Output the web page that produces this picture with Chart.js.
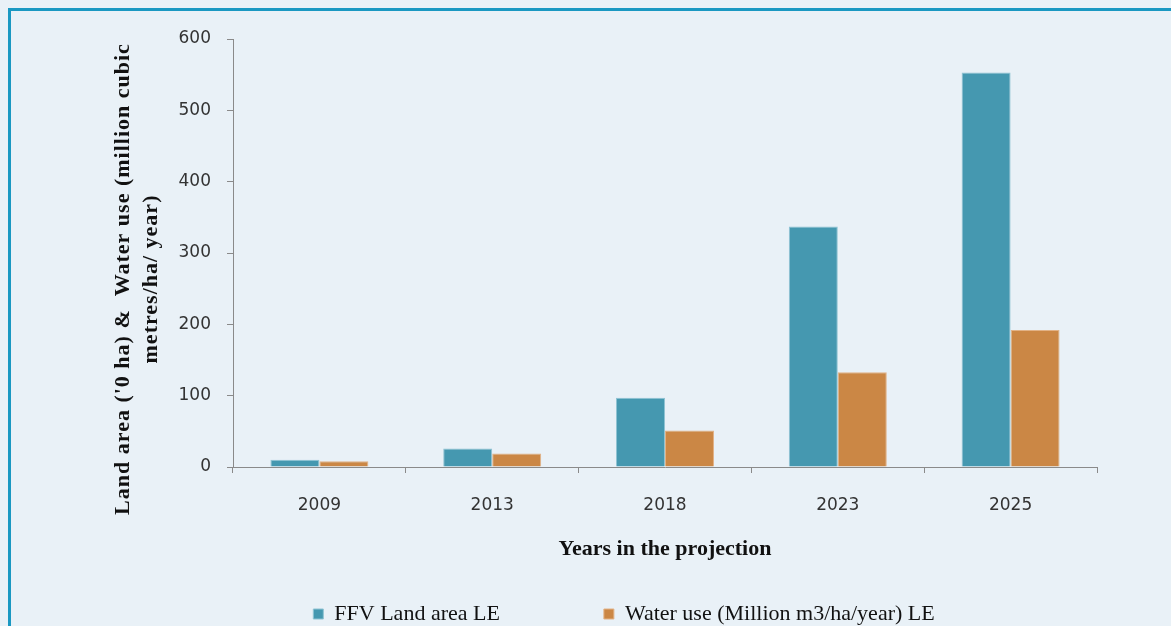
<!DOCTYPE html>
<html>
<head>
<meta charset="utf-8">
<script src="https://cdn.jsdelivr.net/npm/chart.js@4"></script>
<style>
  html, body { margin: 0; padding: 0; background: #e9f1f7; overflow: hidden; }
  #frame { position: absolute; left: 8px; top: 8px; width: 1300px; height: 800px; border: 3px solid #1a98c2; }
  #chart { position: absolute; left: 0; top: 0; }
</style>
</head>
<body>
<div id="frame"></div>
<canvas id="chart" width="1171" height="626"></canvas>
<script>
const years = ['2009', '2013', '2018', '2023', '2025'];
const landArea = [10, 26, 97, 337, 553];
const waterUse = [8, 19, 51, 133, 192];
const seriesNames = ['FFV Land area LE', 'Water use (Million m3/ha/year) LE'];
const yMax = 600;
const yStep = 100;
const yTitle = ["Land area ('0 ha) &  Water use (million cubic", 'metres/ha/ year)'];
const xTitle = 'Years in the projection';

const tickFont = { family: '"DejaVu Sans"', size: 17 };
const axisGrey = '#8a8a8a';
const padLeft = 151;   // pushes the legend row right, y axis width makes up the rest
const plotLeft = 233;
const plotBottom = 467;
const legendBox = 60;       // room the layout keeps for the legend
const legendItemTop = 603;  // where the legend row really goes
const legendGap = 104;

// y title drawn by hand so it can sit a bit lower than the axis centre
const yTitlePlugin = {
    id: 'yTitle',
    afterDraw(chart) {
        const c = chart.ctx;
        const a = chart.chartArea;
        c.save();
        c.font = 'bold 22px "Liberation Serif"';
        c.letterSpacing = '1px';
        c.fillStyle = '#111';
        c.textAlign = 'center';
        c.textBaseline = 'middle';
        c.translate(a.left - 110, (a.top + a.bottom) / 2 + 26);
        c.rotate(-Math.PI / 2);
        yTitle.forEach((line, i) => c.fillText(line, 0, i * 28));
        c.restore();
    }
};

// the wide gap between legend items also pads above the row, so move the row back down
// (legend clips to its own box, so stretch the box to the bottom of the canvas)
const legendShift = {
    id: 'legendShift',
    afterLayout(chart) {
        const lg = chart.legend;
        lg.top = legendItemTop - legendGap;
        lg.bottom = chart.height;
    }
};

const ctx = document.getElementById('chart').getContext('2d');
const chart = new Chart(ctx, {
    type: 'bar',
    data: {
        labels: years,
        datasets: [
            {
                label: seriesNames[0],
                data: landArea,
                backgroundColor: '#4598b0',
                borderColor: '#8fc3d3',
                borderWidth: 1
            },
            {
                label: seriesNames[1],
                data: waterUse,
                backgroundColor: '#cb8745',
                borderColor: '#e2b286',
                borderWidth: 1
            }
        ]
    },
    options: {
        responsive: false,
        animation: false,
        categoryPercentage: 0.567,
        barPercentage: 1,
        layout: { padding: { left: padLeft, right: 74, top: 39, bottom: 0 } },
        scales: {
            x: {
                afterFit: s => { s.height = 626 - legendBox - plotBottom; },
                grid: { drawOnChartArea: false, drawTicks: true, tickLength: 6, color: axisGrey, offset: true },
                border: { color: axisGrey, width: 1 },
                ticks: { font: tickFont, color: '#333', padding: 22 },
                title: {
                    display: true,
                    text: xTitle,
                    color: '#111',
                    font: { family: '"Liberation Serif"', size: 22, weight: 'bold' },
                    padding: { top: 0, bottom: 3 }
                }
            },
            y: {
                min: 0,
                max: yMax,
                afterFit: s => { s.width = plotLeft - padLeft; },
                grid: { drawOnChartArea: false, drawTicks: true, tickLength: 6, color: axisGrey },
                border: { color: axisGrey, width: 1 },
                ticks: { stepSize: yStep, font: tickFont, color: '#333', padding: 16 }
            }
        },
        plugins: {
            tooltip: { enabled: false },
            legend: {
                position: 'bottom',
                maxHeight: legendBox,
                labels: {
                    font: { family: '"Liberation Serif"', size: 22 },
                    color: '#111',
                    boxWidth: 10,
                    boxHeight: 10,
                    padding: legendGap
                }
            }
        }
    },
    plugins: [yTitlePlugin, legendShift]
});
</script>
</body>
</html>
